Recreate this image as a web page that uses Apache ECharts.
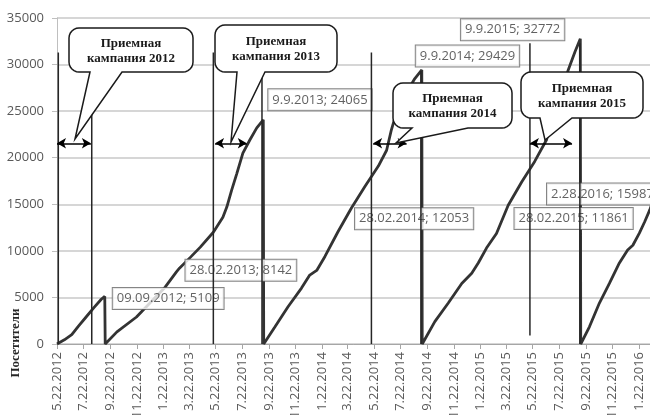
<!DOCTYPE html>
<html>
<head>
<meta charset="utf-8">
<script src="https://cdn.jsdelivr.net/npm/echarts@6/dist/echarts.min.js"></script>
<style>
  html, body { margin: 0; padding: 0; background: #fff; }
  #chart { width: 650px; height: 415px; }
</style>
</head>
<body>
<div id="chart"></div>
<script>
// Cumulative visitors per admission season (the count restarts every September)
const season2012Dates  = ['2012-05-22','2012-06-08','2012-06-25','2012-07-10','2012-07-28','2012-08-15','2012-09-01','2012-09-09'];
const season2012Values = [0, 450, 1000, 1900, 2900, 3900, 4800, 5109];

const season2013Dates  = ['2012-09-10','2012-10-07','2012-11-21','2012-12-22','2013-01-26','2013-02-21','2013-02-28','2013-03-25','2013-04-17','2013-05-17','2013-06-08','2013-06-17','2013-06-28','2013-07-10','2013-07-24','2013-08-09','2013-08-25','2013-09-09'];
const season2013Values = [0, 1300, 2900, 4400, 6100, 7750, 8142, 9300, 10400, 12000, 13600, 14700, 16500, 18300, 20500, 21900, 23200, 24065];

const season2014Dates  = ['2013-09-10','2013-10-06','2013-11-05','2013-12-06','2013-12-25','2014-01-10','2014-01-29','2014-02-28','2014-03-31','2014-05-01','2014-06-01','2014-06-20','2014-07-01','2014-07-13','2014-08-01','2014-08-24','2014-09-09'];
const season2014Values = [0, 1850, 4000, 6000, 7400, 7900, 9400, 12053, 14600, 16900, 19100, 20800, 23000, 24900, 26700, 28500, 29429];

const season2015Dates  = ['2014-09-10','2014-10-09','2014-11-09','2014-12-10','2015-01-02','2015-01-17','2015-02-05','2015-02-28','2015-03-27','2015-04-27','2015-05-27','2015-06-23','2015-07-05','2015-07-24','2015-08-12','2015-08-28','2015-09-09'];
const season2015Values = [0, 2400, 4400, 6500, 7600, 8700, 10300, 11861, 14900, 17400, 19600, 21900, 23900, 26500, 29400, 31400, 32772];

const season2016Dates  = ['2015-09-10','2015-09-30','2015-10-23','2015-11-15','2015-12-08','2015-12-27','2016-01-08','2016-01-23','2016-02-04','2016-02-16','2016-02-28'];
const season2016Values = [0, 1850, 4400, 6500, 8700, 10100, 10600, 11900, 13100, 14400, 15987];

// Annotated points: date as printed in the label, and the matching series date
const labelTexts = ['09.09.2012','28.02.2013','9.9.2013','28.02.2014','9.9.2014','28.02.2015','9.9.2015','2.28.2016'];
const labelDates = ['2012-09-09','2013-02-28','2013-09-09','2014-02-28','2014-09-09','2015-02-28','2015-09-09','2016-02-28'];

// Admission campaigns: boundary lines and the span arrows
const campaignNames  = ['Приемная\nкампания 2012','Приемная\nкампания 2013','Приемная\nкампания 2014','Приемная\nкампания 2015'];
const campaignStarts = ['2012-05-25','2013-05-17','2014-05-16','2015-05-16'];
const campaignEnds   = ['2012-08-10','2013-09-06','2014-09-07','2015-09-08'];
const arrowFrom      = ['2012-05-22','2013-05-21','2014-05-20','2015-05-16'];
const arrowTo        = ['2012-08-08','2013-08-02','2014-08-05','2015-08-21'];

// Axis tick labels (month.day.year)
const tickLabels = ['5.22.2012','7.22.2012','9.22.2012','11.22.2012','1.22.2013','3.22.2013','5.22.2013','7.22.2013','9.22.2013','11.22.2013','1.22.2014','3.22.2014','5.22.2014','7.22.2014','9.22.2014','11.22.2014','1.22.2015','3.22.2015','5.22.2015','7.22.2015','9.22.2015','11.22.2015','1.22.2016'];
const yTicks = [0, 5000, 10000, 15000, 20000, 25000, 30000, 35000];

// ---------- helpers ----------
// the horizontal axis counts days from the first observation
const DAY = 86400000;
const origin = Date.UTC(2012, 4, 22);
const dayOf = s => Math.round((Date.UTC(+s.slice(0, 4), +s.slice(5, 7) - 1, +s.slice(8, 10)) - origin) / DAY);
const dayOfMdy = s => { const p = s.split('.'); return Math.round((Date.UTC(+p[2], +p[0] - 1, +p[1]) - origin) / DAY); };

const allDates = [].concat(season2012Dates, season2013Dates, season2014Dates, season2015Dates, season2016Dates);
const allValues = [].concat(season2012Values, season2013Values, season2014Values, season2015Values, season2016Values);
const visitorData = allDates.map((d, i) => [dayOf(d), allValues[i]]);
const valueOn = d => allValues[allDates.indexOf(d)];

const tickDays = tickLabels.map(dayOfMdy);
const tickNameByDay = {};
tickLabels.forEach((t, i) => { tickNameByDay[tickDays[i]] = t; });

// label box placement around each annotated point: [dx, dy], text alignment
const labelLayout = [
  { pos: [8, 2],     align: 'left'  },
  { pos: [6, 2],     align: 'left'  },
  { pos: [5, -20],   align: 'left'  },
  { pos: [17, -13],  align: 'left'  },
  { pos: [-6, -14],  align: 'left'  },
  { pos: [18, -15],  align: 'left'  },
  { pos: [-16, -9],  align: 'right' },
  { pos: [-108, -1], align: 'left'  }
];

// vertical extent of the campaign boundary lines: [start line, end line]
const lineSpans = [
  [[0, 31300], [0, 31300]],
  [[0, 31300], [0, 31300]],
  [[0, 31300], [0, 29300]],
  [[900, 32300], [0, 32300]]
];
const arrowLevel = 21550;

const boundarySeries = [];
campaignStarts.forEach((d, i) => {
  [d, campaignEnds[i]].forEach((x, k) => {
    const span = lineSpans[i][k];
    const s = {
      type: 'line', z: 4, silent: true, symbol: 'none', animation: false,
      lineStyle: { color: '#262626', width: 1.5 },
      data: [[dayOf(x), span[0]], [dayOf(x), span[1]]]
    };
    if (k === 0) {
      s.markLine = {
        silent: true, animation: false,
        symbol: ['arrow', 'arrow'], symbolSize: [8, 9],
        label: { show: false },
        lineStyle: { color: '#000', width: 1.5, type: 'solid' },
        data: [[{ coord: [dayOf(arrowFrom[i]), arrowLevel] }, { coord: [dayOf(arrowTo[i]), arrowLevel] }]]
      };
    }
    boundarySeries.push(s);
  });
});

// callout bubble geometry: box x, y, w, h, tail base x1..x2, tail tip
const bubbleLayout = [
  { x: 69,  y: 28, w: 124, h: 44, b1: 90,  b2: 122, tx: 75,  ty: 139 },
  { x: 215, y: 25, w: 122, h: 47, b1: 237, b2: 265, tx: 231, ty: 142 },
  { x: 393, y: 83, w: 119, h: 45, b1: 412, b2: 468, tx: 396, ty: 143 },
  { x: 521, y: 72, w: 122, h: 46, b1: 540, b2: 572, tx: 545, ty: 140 }
];
// outline of a rounded box with a pointed tail on its lower edge
function bubblePoints(b) {
  const r = 10, pts = [];
  const corner = (cx, cy, a0) => {
    for (let k = 0; k <= 6; k++) {
      const a = a0 + (Math.PI / 2) * (k / 6);
      pts.push([cx + r * Math.cos(a), cy + r * Math.sin(a)]);
    }
  };
  corner(b.x + r, b.y + r, Math.PI);              // top-left
  corner(b.x + b.w - r, b.y + r, -Math.PI / 2);    // top-right
  corner(b.x + b.w - r, b.y + b.h - r, 0);         // bottom-right
  pts.push([b.b2, b.y + b.h], [b.tx, b.ty], [b.b1, b.y + b.h]);
  corner(b.x + r, b.y + b.h - r, Math.PI / 2);     // bottom-left
  return pts;
}
const graphics = [];
bubbleLayout.forEach((b, i) => {
  graphics.push({
    type: 'polygon', z: 100,
    shape: { points: bubblePoints(b) },
    style: { fill: '#fff', stroke: '#1a1a1a', lineWidth: 1.5 }
  });
  graphics.push({
    type: 'text', z: 101,
    style: {
      text: campaignNames[i], x: b.x + b.w / 2, y: b.y + b.h / 2 + 1,
      align: 'center', verticalAlign: 'middle', lineHeight: 15,
      font: 'bold 13px "Liberation Serif"', fill: '#1a1a1a'
    }
  });
});
graphics.push({
  type: 'text', z: 101, x: 16, y: 343, rotation: Math.PI / 2,
  style: {
    text: 'Посетители', x: 0, y: 0, align: 'center', verticalAlign: 'middle',
    font: 'bold 13px "Liberation Serif"', fill: '#262626'
  }
});

const chart = echarts.init(document.getElementById('chart'), null, { renderer: 'canvas' });
chart.setOption({
  animation: false,
  backgroundColor: '#fff',
  grid: { left: 57, top: 18, right: -5, bottom: 71, outerBoundsMode: 'none', containLabel: false },
  xAxis: {
    type: 'value',
    min: 0, max: dayOf('2016-02-28'),
    axisLine: { show: true, onZero: false, lineStyle: { color: '#a6a6a6', width: 1 } },
    axisTick: { show: true, customValues: tickDays, length: 5, lineStyle: { color: '#a6a6a6' } },
    axisLabel: {
      customValues: tickDays, rotate: 90, margin: 8,
      color: '#595959', fontFamily: 'Open Sans', fontSize: 13,
      formatter: v => tickNameByDay[v] || ''
    },
    splitLine: { show: false }
  },
  yAxis: {
    type: 'value', min: yTicks[0], max: yTicks[yTicks.length - 1], interval: 5000,
    axisLine: { show: true, lineStyle: { color: '#bfbfbf', width: 1 } },
    axisTick: { show: true, length: 5, lineStyle: { color: '#bfbfbf' } },
    axisLabel: {
      color: '#595959', fontFamily: 'Open Sans', fontSize: 13, margin: 13,
      formatter: v => String(v)
    },
    splitLine: { lineStyle: { color: '#c9c9c9', width: 1.5 } }
  },
  series: [
    {
      name: 'Посетители', type: 'line', z: 2, symbol: 'none', silent: true,
      lineStyle: { color: '#333333', width: 2.8 },
      data: visitorData
    },
    {
      type: 'scatter', z: 3, symbolSize: 0, silent: true, clip: false,
      data: labelDates.map((d, i) => ({
        value: [dayOf(d), valueOn(d)],
        label: { position: labelLayout[i].pos, align: labelLayout[i].align }
      })),
      label: {
        show: true, verticalAlign: 'middle',
        formatter: p => labelTexts[p.dataIndex] + '; ' + p.value[1],
        backgroundColor: '#fff', borderColor: '#666666', borderWidth: 1,
        padding: [2, 4, 1, 4], color: '#3a3a3a',
        fontFamily: 'Open Sans', fontSize: 13, lineHeight: 18
      }
    }
  ].concat(boundarySeries),
  graphic: graphics
});
</script>
</body>
</html>
